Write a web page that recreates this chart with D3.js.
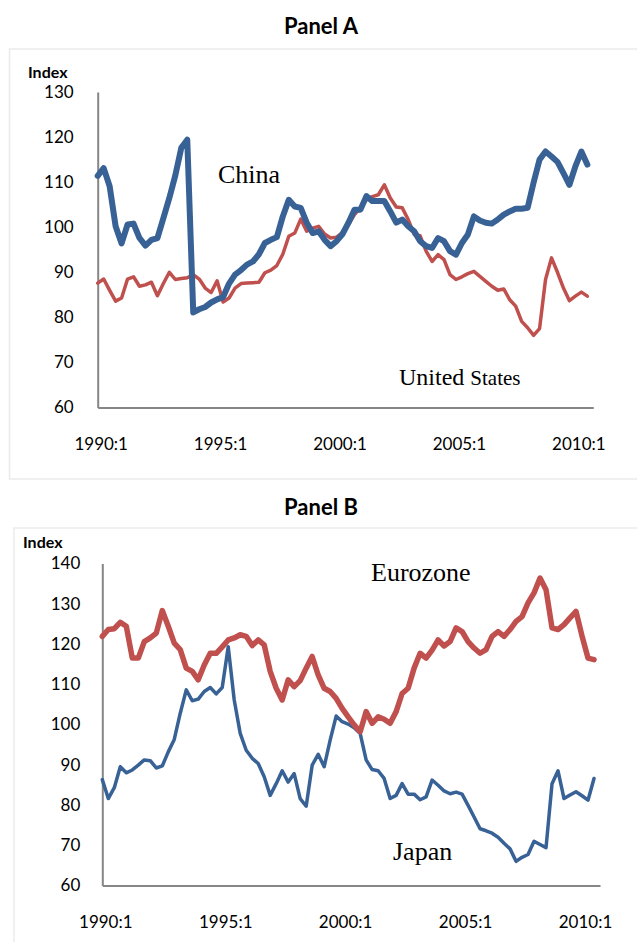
<!DOCTYPE html>
<html>
<head>
<meta charset="utf-8">
<script src="https://cdn.jsdelivr.net/npm/d3@7/dist/d3.min.js"></script>
<style>
  html, body { margin: 0; padding: 0; background: #fff; }
  svg { display: block; }
  .tick text { font-family: Lato, "Open Sans", sans-serif; font-size: 17px; fill: #000; }
</style>
</head>
<body>
<svg id="chart" width="637" height="942"></svg>
<script>
// ---- Data (quarterly, 1990:1 .. 2010:3) ----
const xTickIndex = [0, 20, 40, 60, 80];
const xTickLabels = ["1990:1", "1995:1", "2000:1", "2005:1", "2010:1"];
const panelATicks = [60, 70, 80, 90, 100, 110, 120, 130];
const panelBTicks = [60, 70, 80, 90, 100, 110, 120, 130, 140];

const china = [111.4,113.1,109.1,100.2,96.4,100.6,100.8,97.6,95.9,97.2,
  97.6,102,106.5,111.5,117.6,119.4,81.1,81.8,82.3,83.3,
  84,84.5,87.5,89.5,90.5,91.7,92.4,94,96.5,97.2,
  97.8,102.4,106.1,104.6,104.3,101,98.7,99.1,97.2,95.8,
  96.9,98.5,101,103.9,103.9,106.9,105.8,105.8,105.8,103.5,
  101,101.7,100.2,99.1,96.9,95.8,95.4,97.6,96.9,94.7,
  93.9,96.5,98.4,102.4,101.5,101,100.8,101.7,102.8,103.5,
  104.1,104.1,104.3,109.9,115,116.8,115.7,114.5,112,109.4,
  113.5,116.8,113.9];

const unitedStates = [87.6,88.5,86,83.6,84.3,88.5,89,86.9,87.2,87.8,
  84.8,87.5,90,88.4,88.6,88.8,89.5,88.5,86.5,85.5,
  88.1,83.4,84.3,86.5,87.5,87.6,87.7,87.8,89.9,90.5,
  91.5,94,98,98.7,101.8,99.1,99.8,100.2,98.5,97.6,
  97.8,98.8,100.6,102.8,104.3,106.1,106.8,107.2,109.4,106.5,
  104.5,104.3,101.7,98.4,98.1,94.7,92.4,93.9,92.8,89.5,
  88.4,89,89.7,90.2,89.1,88,86.9,86,86.3,83.9,
  82.5,79.1,77.7,76,77.5,88.4,93.2,90,86.5,83.7,
  84.7,85.6,84.7];

const eurozone = [121.9,123.6,123.8,125.4,124.4,116.5,116.5,120.6,121.5,122.7,
  128.3,124.4,120.2,118.6,114,113.2,111.1,114.8,117.7,117.7,
  119.3,121,121.5,122.3,121.9,119.6,121,119.8,113.2,109,
  106.1,111.1,109.4,110.9,114,116.9,112.3,109,108.2,106.5,
  104,101.9,99.9,98.2,103.2,100.3,101.9,101.3,100.3,103.2,
  107.7,109,114,117.7,116.5,118.5,121,119.5,120.6,124,
  123.1,120.6,119,117.7,118.6,121.9,123.1,121.9,123.6,125.6,
  126.8,130.2,132.7,136.4,133.5,124,123.6,124.8,126.5,128.1,
  122,116.5,116.1];

const japan = [86.3,81.6,84.3,89.5,88,88.7,89.9,91.2,91,89.2,
  89.7,93.2,96.3,102.8,108.6,105.9,106.3,108.2,109.2,107.6,
  109.2,119.3,106.1,97.8,93.6,91.6,90.3,87,82.4,85.3,
  88.5,85.7,87.8,81.6,79.7,89.9,92.6,89.5,96.1,102.1,
  100.7,100.1,99.2,97.8,91.2,88.8,88.5,86.6,81.6,82.4,
  85.3,82.7,82.7,81.3,82,86.2,84.9,83.5,82.8,83.2,
  82.7,79.9,77,74.1,73.6,73,72,70.5,69.1,66,
  67,67.7,71,70.2,69.4,85.3,88.5,81.6,82.5,83.3,
  82.3,81.2,86.6];

const BLUE = "#386296";
const RED = "#C0504D";

const svg = d3.select("#chart");

function panel(cfg) {
  const g = svg.append("g");
  // frame
  g.append("rect")
    .attr("x", cfg.frame[0]).attr("y", cfg.frame[1])
    .attr("width", cfg.frame[2]).attr("height", cfg.frame[3])
    .attr("fill", "none").attr("stroke", "#ebebeb").attr("stroke-width", 1.5);
  // title
  g.append("text")
    .attr("x", 321).attr("y", cfg.titleY)
    .attr("text-anchor", "middle")
    .style("font-family", "Lato, sans-serif").style("font-weight", "bold")
    .style("font-size", "22px")
    .text(cfg.title);
  // Index
  g.append("text")
    .attr("x", cfg.indexX).attr("y", cfg.indexY)
    .style("font-family", "Lato, sans-serif").style("font-weight", "bold")
    .style("font-size", "16px")
    .text("Index");

  const x = d3.scaleLinear().domain([0, 83]).range([cfg.x0, cfg.x1]);
  const y = d3.scaleLinear().domain(cfg.yDomain).range([cfg.y0, cfg.y1]);

  const yAxis = d3.axisLeft(y).tickValues(cfg.yTicks).tickSize(0).tickPadding(cfg.yPad)
    .tickFormat(d3.format("d"));
  const ya = g.append("g").attr("transform", `translate(${cfg.x0},0)`).call(yAxis);
  ya.select(".domain").attr("stroke", "#868686").attr("stroke-width", 2);

  const xAxis = d3.axisBottom(x).tickValues(xTickIndex).tickSize(0).tickPadding(cfg.xPad)
    .tickFormat((d, i) => xTickLabels[i]);
  const xa = g.append("g").attr("transform", `translate(0,${cfg.y0})`).call(xAxis);
  xa.select(".domain").attr("stroke", "#868686").attr("stroke-width", 2);
  xa.selectAll(".tick text").attr("dx", 3);

  const line = d3.line().x((d, i) => x(i)).y(d => y(d));
  cfg.series.forEach(s => {
    g.append("path")
      .datum(s.values)
      .attr("d", line)
      .attr("fill", "none")
      .attr("stroke", s.color)
      .attr("stroke-width", s.width)
      .attr("stroke-linejoin", "round")
      .attr("stroke-linecap", "round");
  });

  cfg.labels.forEach(l => {
    const t = g.append("text")
      .attr("x", l.x).attr("y", l.y)
      .style("font-family", "'Liberation Serif', 'Times New Roman', serif")
      .style("font-size", "26px").style("fill", "#000");
    if (l.parts) {
      l.parts.forEach(p => t.append("tspan").style("font-size", p.size).text(p.t));
    } else {
      t.text(l.text);
    }
  });
}

panel({
  frame: [9.5, 49, 640, 430],
  title: "Panel A", titleY: 34,
  indexX: 28, indexY: 78,
  x0: 97.7, x1: 593.3, y0: 407.5, y1: 92,
  yDomain: [60, 130], yTicks: panelATicks, yPad: 24, xPad: 30,
  series: [
    { values: unitedStates, color: RED, width: 3.5 },
    { values: china, color: BLUE, width: 6 }
  ],
  labels: [
    { x: 218, y: 183, text: "China" },
    { x: 399, y: 385, parts: [{ t: "United ", size: "24px" }, { t: "States", size: "21px" }] }
  ]
});

panel({
  frame: [14, 528, 640, 430],
  title: "Panel B", titleY: 515,
  indexX: 23, indexY: 548,
  x0: 102.3, x1: 600, y0: 885.5, y1: 563.5,
  yDomain: [60, 140], yTicks: panelBTicks, yPad: 22, xPad: 30,
  series: [
    { values: japan, color: BLUE, width: 3.5 },
    { values: eurozone, color: RED, width: 5.5 }
  ],
  labels: [
    { x: 371, y: 581, text: "Eurozone" },
    { x: 393, y: 860, text: "Japan" }
  ]
});
</script>
</body>
</html>
